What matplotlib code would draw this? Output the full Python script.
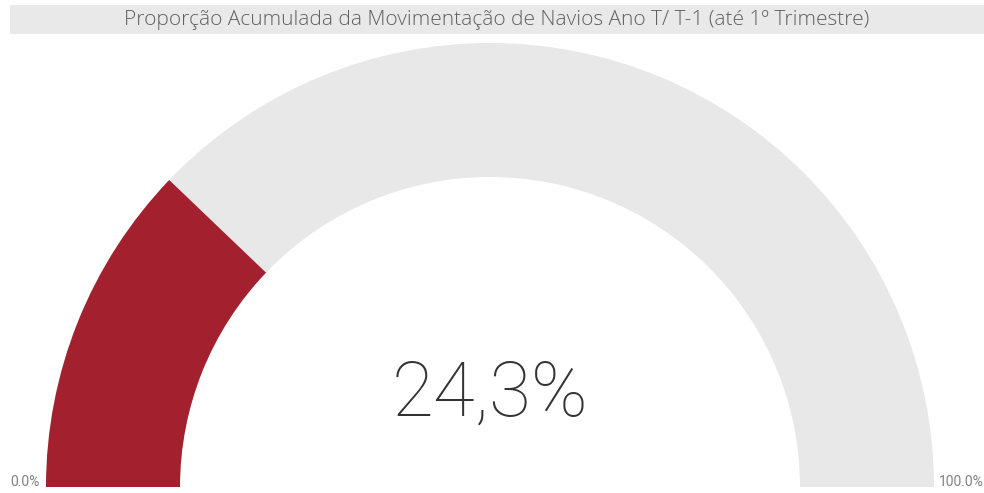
import matplotlib
matplotlib.use("Agg")
import matplotlib.pyplot as plt
from matplotlib.patches import Wedge, Rectangle

title = "Proporção Acumulada da Movimentação de Navios Ano T/ T-1 (até 1º Trimestre)"
value = 24.3
vmin = 0.0
vmax = 100.0
value_label = "24,3%"
min_label = "0.0%"
max_label = "100.0%"

W, H = 984, 493
fig = plt.figure(figsize=(W / 100, H / 100), dpi=100)
ax = fig.add_axes([0, 0, 1, 1])
ax.set_xlim(0, W)
ax.set_ylim(H, 0)
ax.axis("off")

cx, cy = 490, 487
r_out, r_in = 444, 310
frac = (value - vmin) / (vmax - vmin)
ang = 180 - 180 * frac

# y axis is inverted, so negative angles draw above the centre
ax.add_patch(Wedge((cx, cy), r_out, -180, 0, width=r_out - r_in, facecolor="#E8E8E8", edgecolor="none"))
ax.add_patch(Wedge((cx, cy), r_out, -180, -ang, width=r_out - r_in, facecolor="#A3202F", edgecolor="none"))

# title bar
ax.add_patch(Rectangle((10, 5), W - 10, 29, facecolor="#E9E9E9", edgecolor="none"))
ax.text(497, 20, title, ha="center", va="center", fontsize=15, color="#606060",
        family="Open Sans", fontweight="light")

ax.text(490, 395, value_label, ha="center", va="center", fontsize=55, color="#333333",
        family="Roboto", fontweight="light")
ax.text(10, 482, min_label, ha="left", va="center", fontsize=10, color="#808080", family="Roboto")
ax.text(984, 482, max_label, ha="right", va="center", fontsize=10, color="#808080", family="Roboto")

fig.savefig("out.png", dpi=100)
